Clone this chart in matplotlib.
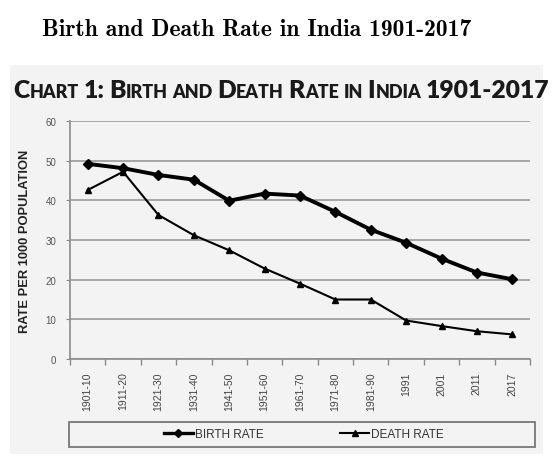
import matplotlib
matplotlib.use("Agg")
import matplotlib.pyplot as plt
from matplotlib.patches import Rectangle
from matplotlib.lines import Line2D
import numpy as np

categories = ["1901-10", "1911-20", "1921-30", "1931-40", "1941-50", "1951-60",
              "1961-70", "1971-80", "1981-90", "1991", "2001", "2011", "2017"]
birth_rate = [49.2, 48.1, 46.4, 45.2, 39.9, 41.7, 41.2, 37.1, 32.6, 29.3, 25.3, 21.8, 20.1]
death_rate = [42.6, 47.2, 36.3, 31.2, 27.4, 22.8, 19.0, 15.0, 15.0, 9.7, 8.3, 7.0, 6.2]
yticks = [0, 10, 20, 30, 40, 50, 60]

W, H = 557, 460
fig = plt.figure(figsize=(W / 100, H / 100), dpi=100)
fig.patch.set_facecolor("white")

BG = "#f3f3f3"
fig.add_artist(Rectangle((10 / W, 1 - 455 / H), (543 - 10) / W, (455 - 66) / H,
                         transform=fig.transFigure, facecolor=BG, edgecolor="none", zorder=0))

ax = fig.add_axes([70 / W, 1 - 360 / H, (530 - 70) / W, (360 - 122) / H])
ax.set_facecolor(BG)
x = np.arange(len(categories))
ax.set_xlim(-0.5, len(categories) - 0.5)
ax.set_ylim(0, 60)
ax.set_yticks(yticks)
ax.grid(axis="y", color="#a0a0a0", linewidth=1.3, zorder=1)
ax.set_axisbelow(True)
for s in ["top", "right"]:
    ax.spines[s].set_visible(False)
for s in ["left", "bottom"]:
    ax.spines[s].set_color("#8a8a8a")
    ax.spines[s].set_linewidth(1.2)

ax.plot(x, birth_rate, color="black", linewidth=2.8, marker="D", markersize=5, zorder=3)
ax.plot(x, death_rate, color="black", linewidth=1.5, marker="^", markersize=4.5, zorder=3)

ax.set_xticks(x)
ax.set_xticklabels(categories, rotation=90, fontsize=7.5, color="#444444",
                   family="Liberation Sans")
ax.tick_params(axis="x", which="major", length=0, pad=9)
ax.set_xticks(np.arange(-0.5, len(categories), 1.0), minor=True)
ax.tick_params(axis="x", which="minor", length=4, color="#8a8a8a", width=1)
ax.tick_params(axis="y", length=3, color="#8a8a8a", pad=7, labelsize=7, labelcolor="#555555")
for lab in ax.get_yticklabels():
    lab.set_family("Liberation Sans")
ax.set_ylabel("RATE PER 1000 POPULATION", fontsize=9.3, fontweight="bold",
              family="Liberation Sans", color="#222222", labelpad=10)

# legend box
fig.add_artist(Rectangle((69 / W, 1 - 448 / H), (535 - 69) / W, (448 - 423) / H,
                         transform=fig.transFigure, facecolor="none", edgecolor="#777777",
                         linewidth=1.3, zorder=5))
handles = [Line2D([], [], color="black", linewidth=2.4, marker="D", markersize=4),
           Line2D([], [], color="black", linewidth=1.5, marker="^", markersize=4)]
fig.legend(handles, ["BIRTH RATE", "DEATH RATE"], loc="center",
           bbox_to_anchor=(304 / W, 1 - 435.5 / H), ncol=2, frameon=False,
           prop={"family": "Liberation Sans", "size": 8.5}, handlelength=2.4,
           handletextpad=0.2, columnspacing=6.5, labelcolor="#333333")

fig.canvas.draw()
renderer = fig.canvas.get_renderer()

# top title
t = fig.text(42 / W, 1 - 36 / H, "Birth and Death Rate in India 1901-2017",
             family=["cmb10", "DejaVu Serif"], fontsize=14, color="black", va="baseline")
fig.canvas.draw()
bb = t.get_window_extent(renderer)
t.set_fontsize(14 * 428 / bb.width)

# small-caps chart title
pieces = [("C", 1), ("HART", 0), (" ", 0), ("1:", 1), (" ", 0), ("B", 1), ("IRTH", 0), (" ", 0),
          ("AND", 0), (" ", 0), ("D", 1), ("EATH", 0), (" ", 0), ("R", 1), ("ATE", 0), (" ", 0),
          ("IN", 0), (" ", 0), ("I", 1), ("NDIA", 0), (" ", 0), ("1901-2017", 1)]


def draw_title(big, small, x0, ybase):
    xs = x0
    arts = []
    for txt, isbig in pieces:
        size = big if isbig else small
        if txt == " ":
            xs += size * 100 / 72 * 0.25
            continue
        a = fig.text(xs / W, 1 - ybase / H, txt, family="Lato", fontweight="heavy",
                     fontsize=size, color="#1a1a1a", va="baseline", ha="left")
        w = a.get_window_extent(renderer).width
        xs += w + 0.2
        arts.append(a)
    return xs - x0, arts


big0, small0 = 20.0, 14.5
width, arts = draw_title(big0, small0, 13, 98)
for a in arts:
    a.remove()
scale = (548 - 13) / width
draw_title(big0 * scale, small0 * scale, 13, 98)

fig.savefig("out.png", dpi=100, facecolor="white")
